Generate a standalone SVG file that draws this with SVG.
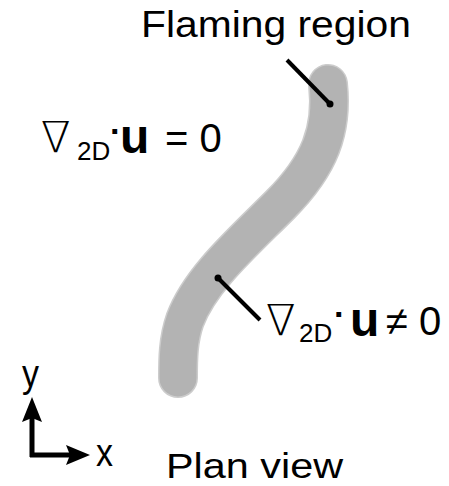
<svg xmlns="http://www.w3.org/2000/svg" width="449" height="486" viewBox="0 0 449 486">
<style>
text{font-family:"Liberation Sans",Arial,"DejaVu Sans",sans-serif;fill:#000}
.nab{font-family:"DejaVu Sans","Liberation Sans",sans-serif;font-size:43px;font-weight:200}
.big{font-size:40px}
.sub{font-size:26px}
.dot{font-size:34px;font-weight:bold}
.u{font-size:48px;font-weight:bold}
.lead{stroke:#000;stroke-width:4;fill:none}
</style>
<rect width="449" height="486" fill="#fff"/>
<g id="band">
<path d="M328,84 C333,130 320,165 280,205 C240,245 200,280 185,320 C178,340 178,360 178,378" fill="none" stroke="#cccccc" stroke-width="40" stroke-linecap="round"/>
<path d="M328,84 C333,130 320,165 280,205 C240,245 200,280 185,320 C178,340 178,360 178,378" fill="none" stroke="#b3b3b3" stroke-width="37" stroke-linecap="round"/>
</g>
<g id="connectors">
<line class="lead" x1="287" y1="60" x2="330" y2="104"/>
<circle cx="330" cy="104" r="3.5"/>
<line class="lead" x1="218" y1="278" x2="260" y2="320"/>
<circle cx="218" cy="278" r="3.5"/>
</g>
<g id="flaming-label">
<text x="141" y="37" font-size="36" textLength="270" lengthAdjust="spacingAndGlyphs">Flaming region</text>
</g>
<g id="div-zero">
<text class="nab" x="41" y="152">∇</text>
<text class="sub" x="77" y="160">2D</text>
<text class="dot" x="110" y="143">·</text>
<text class="u" x="120" y="153">u</text>
<text class="big" x="165" y="152">= 0</text>
</g>
<g id="div-nonzero">
<text class="nab" x="266" y="335">∇</text>
<text class="sub" x="299" y="342">2D</text>
<text class="dot" x="334" y="326">·</text>
<text class="u" x="350" y="336">u</text>
<text class="big" x="386" y="335">≠ 0</text>
</g>
<g id="axes">
<path d="M32,457 L32,418 M30,455 L70,455" stroke="#000" stroke-width="5" fill="none"/>
<polygon points="32,397 42,422 32,418 22,422"/>
<polygon points="90,455 66,445 70,455 66,465"/>
<text x="22" y="387" font-size="34" transform="translate(0,-58) scale(1,1.15)">y</text>
<text x="96" y="466" font-size="34" transform="translate(0,-70) scale(1,1.15)">x</text>
</g>
<g id="plan-label">
<text x="166" y="478" font-size="35" textLength="177" lengthAdjust="spacingAndGlyphs">Plan view</text>
</g>
</svg>
